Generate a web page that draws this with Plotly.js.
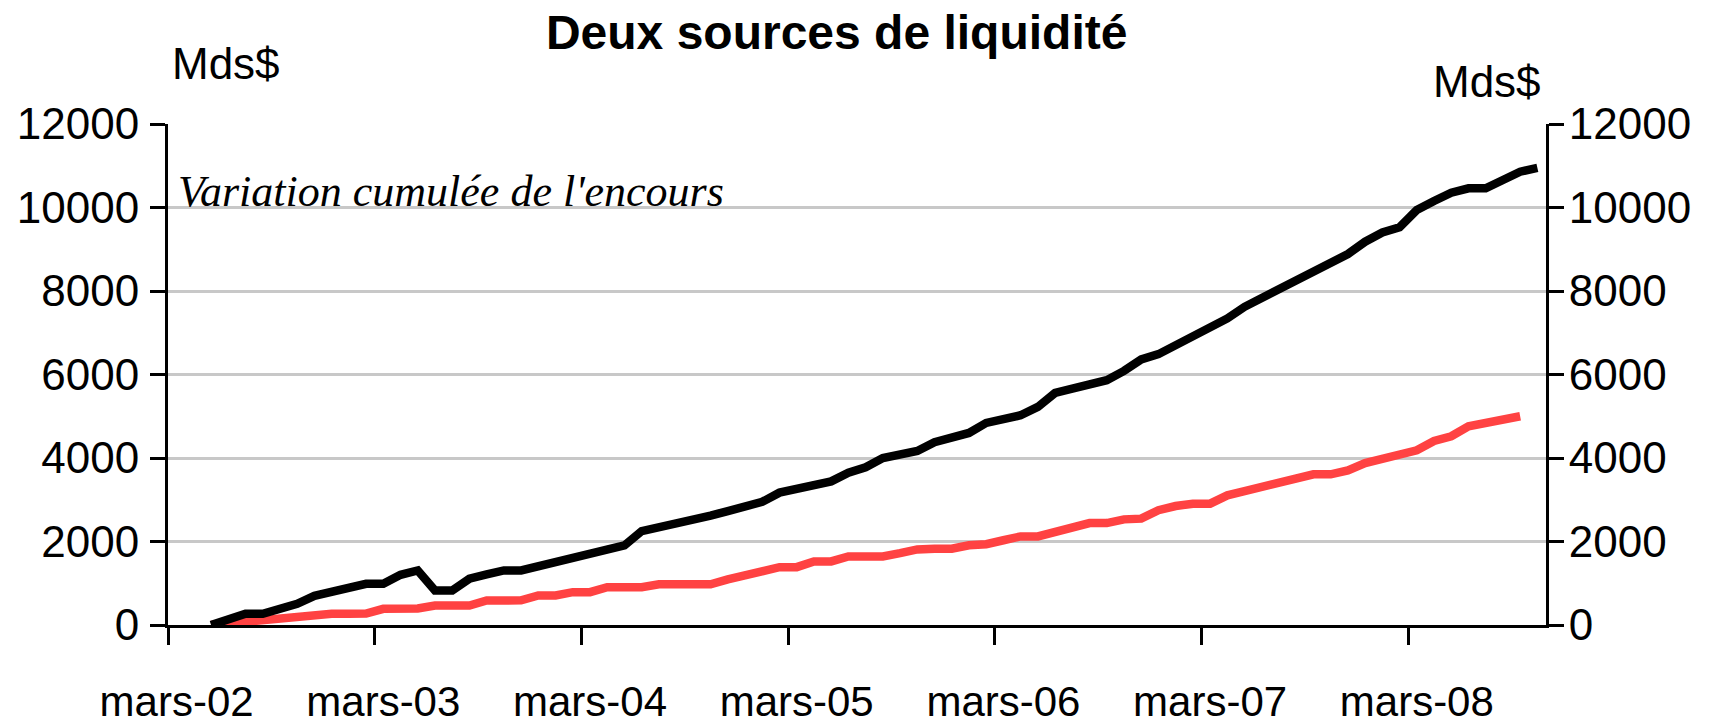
<!DOCTYPE html>
<html>
<head>
<meta charset="utf-8">
<script src="https://cdn.plot.ly/plotly-3.0.1.min.js"></script>
<style>
  html, body { margin: 0; padding: 0; background: #ffffff; }
  #chart { width: 1718px; height: 726px; }
</style>
</head>
<body>
<div id="chart"></div>
<script>
// Month names (French abbreviations) and years used to build the category axis
const monthNames = ["janv", "févr", "mars", "avr", "mai", "juin", "juil", "août", "sept", "oct", "nov", "déc"];
const years = ["02", "03", "04", "05", "06", "07", "08"];
const startMonth = 2;   // mars-02
const monthCount = 80;  // through oct-08

// Series 1 (black) – cumulative change, Mds$
const seriesBlack = [
  null, null, 0, 130, 268, 268, 364, 508, 700, 790,
  890, 988, 988, 1203, 1307, 827, 827, 1108, 1210, 1307,
  1307, 1407, 1507, 1607, 1707, 1806, 1906, 2249, 2330, 2420,
  2520, 2620, 2730, 2840, 2950, 3170, 3260, 3350, 3440, 3650,
  3780, 4000, 4080, 4168, 4380, 4490, 4600, 4840, 4930, 5024,
  5223, 5559, 5660, 5760, 5863, 6086, 6360, 6487, 6690, 6887,
  7118, 7343, 7621, 7832, 8043, 8253, 8464, 8675, 8885, 9180,
  9400, 9525, 9940, 10156, 10355, 10460, 10460, 10659, 10858, 10950
];

// Series 2 (red) – cumulative change, Mds$
const seriesRed = [
  null, null, 0, 40, 100, 115, 140, 200, 270, 270,
  270, 275, 388, 388, 395, 468, 468, 468, 588, 588,
  590, 707, 707, 787, 787, 906, 906, 906, 975, 975,
  975, 975, 1090, 1204, 1290, 1386, 1386, 1523, 1523, 1643,
  1643, 1643, 1720, 1810, 1827, 1827, 1910, 1935, 2030, 2122,
  2122, 2228, 2335, 2441, 2441, 2530, 2547, 2750, 2850, 2906,
  2906, 3105, 3206, 3307, 3408, 3508, 3609, 3609, 3705, 3880,
  3990, 4090, 4185, 4408, 4520, 4760, 4840, 4920, 5000, null
];

// Build category list (mars-02 ... oct-08)
const categories = [];
for (let k = 0; k < monthCount; k++) {
  const m = (startMonth + k) % 12;
  const y = Math.floor((startMonth + k) / 12);
  categories.push(monthNames[m] + "-" + years[y]);
}

const FONT = "Liberation Sans, Arial, sans-serif";
const SERIF = "Liberation Serif, Times New Roman, serif";

const traces = [
  {
    x: categories, y: seriesRed, type: "scatter", mode: "lines",
    line: { color: "#ff4242", width: 8.5 }, connectgaps: false, hoverinfo: "skip"
  },
  {
    x: categories, y: seriesBlack, type: "scatter", mode: "lines",
    line: { color: "#000000", width: 8.5 }, connectgaps: false, hoverinfo: "skip"
  },
  {
    x: categories, y: seriesBlack, type: "scatter", mode: "lines", yaxis: "y2",
    line: { width: 0 }, opacity: 0, hoverinfo: "skip", showlegend: false
  }
];

const axisTickFont = { family: FONT, size: 44, color: "#000000" };

const layout = {
  width: 1718, height: 726,
  margin: { l: 168, r: 172, t: 124, b: 101 },
  paper_bgcolor: "#ffffff", plot_bgcolor: "#ffffff",
  showlegend: false,
  hovermode: false,
  title: {
    text: "<b>Deux sources de liquidité</b>",
    font: { family: FONT, size: 48, color: "#000000" },
    x: 0.487, xref: "container", xanchor: "center",
    y: 0.955, yref: "container", yanchor: "middle"
  },
  xaxis: {
    type: "category",
    categoryorder: "array", categoryarray: categories,
    range: [-0.5, monthCount - 0.5],
    tickmode: "linear", tick0: 0, dtick: 12,
    tickson: "boundaries",
    tickangle: 0,
    ticks: "outside", ticklen: 17, tickwidth: 3, tickcolor: "#000000",
    showline: true, linecolor: "#000000", linewidth: 3,
    showgrid: false, zeroline: false,
    ticklabelstandoff: 38,
    tickfont: { family: FONT, size: 42, color: "#000000" },
    fixedrange: true
  },
  yaxis: {
    range: [0, 12000], tickmode: "linear", tick0: 0, dtick: 2000,
    tickformat: "d",
    ticks: "outside", ticklen: 15, tickwidth: 3, tickcolor: "#000000",
    showline: true, linecolor: "#000000", linewidth: 3,
    showgrid: true, gridcolor: "#c8c8c8", gridwidth: 3,
    zeroline: false,
    ticklabelstandoff: 2,
    tickfont: axisTickFont,
    fixedrange: true
  },
  yaxis2: {
    overlaying: "y", side: "right",
    range: [0, 12000], tickmode: "linear", tick0: 0, dtick: 2000,
    tickformat: "d",
    ticks: "outside", ticklen: 15, tickwidth: 3, tickcolor: "#000000",
    showline: true, linecolor: "#000000", linewidth: 3,
    showgrid: false, zeroline: false,
    ticklabelstandoff: -4,
    tickfont: axisTickFont,
    fixedrange: true
  },
  annotations: [
    {
      text: "Mds$", xref: "paper", yref: "paper", x: 0.0424, y: 1.12,
      xanchor: "center", yanchor: "middle", showarrow: false,
      font: { family: FONT, size: 44, color: "#000000" }
    },
    {
      text: "Mds$", xref: "paper", yref: "paper", x: 0.957, y: 1.085,
      xanchor: "center", yanchor: "middle", showarrow: false,
      font: { family: FONT, size: 44, color: "#000000" }
    },
    {
      text: "<i>Variation cumulée de l'encours</i>", xref: "paper", yref: "paper",
      x: 0.006, y: 0.866, xanchor: "left", yanchor: "middle", showarrow: false,
      font: { family: SERIF, size: 44, color: "#000000" }
    }
  ]
};

Plotly.newPlot("chart", traces, layout, { displayModeBar: false, staticPlot: true });
</script>
</body>
</html>
